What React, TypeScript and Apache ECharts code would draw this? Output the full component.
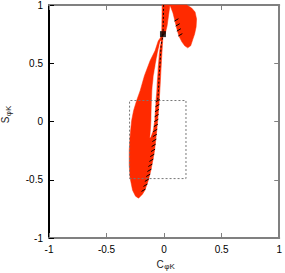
import React, { useEffect, useRef } from "react";
import * as echarts from "echarts";

// Axis ticks
const xTicks = [-1, -0.5, 0, 0.5, 1];
const yTicks = [-1, -0.5, 0, 0.5, 1];

// Lower allowed region (outer boundary), [C, S]
const lowerOuter: number[][] = [
  [-0.009, 0.752], [-0.051, 0.692], [-0.079, 0.607], [-0.122, 0.521], [-0.171, 0.393],
  [-0.208, 0.265], [-0.239, 0.179], [-0.265, 0.094], [-0.282, 0.009], [-0.295, -0.12],
  [-0.303, -0.248], [-0.303, -0.376], [-0.295, -0.487], [-0.274, -0.59], [-0.248, -0.641],
  [-0.222, -0.658], [-0.188, -0.624], [-0.167, -0.59], [-0.137, -0.504], [-0.115, -0.419],
  [-0.098, -0.333], [-0.083, -0.248], [-0.073, -0.162], [-0.064, -0.077], [-0.056, 0.009],
  [-0.049, 0.094], [-0.043, 0.179], [-0.037, 0.265], [-0.03, 0.393], [-0.023, 0.521],
  [-0.015, 0.65], [-0.009, 0.752],
];

// Inner excluded hole of the lower region
const lowerHole: number[][] = [
  [-0.03, 0.692], [-0.051, 0.607], [-0.068, 0.521], [-0.09, 0.393], [-0.103, 0.265],
  [-0.107, 0.137], [-0.111, 0.009], [-0.115, -0.077], [-0.12, -0.137], [-0.098, -0.077],
  [-0.085, 0.009], [-0.077, 0.137], [-0.068, 0.265], [-0.06, 0.393], [-0.051, 0.521],
  [-0.043, 0.607],
];

// Thin strip above the best-fit point
const upperStrip: number[][] = [
  [-0.021, 0.735], [-0.017, 1.0], [0.051, 1.0], [0.026, 0.821], [0.009, 0.752],
];

// Right upper lobe
const upperLobe: number[][] = [
  [0.051, 1.0], [0.077, 0.932], [0.094, 0.863], [0.111, 0.795], [0.128, 0.735],
  [0.154, 0.684], [0.179, 0.65], [0.205, 0.632], [0.231, 0.65], [0.248, 0.701],
  [0.265, 0.752], [0.278, 0.812], [0.282, 0.88], [0.269, 0.94], [0.239, 0.974],
  [0.197, 1.0],
];

// Hatch marks along the lower region's right edge and the lobe's left edge
const hatchLower: number[][] = [
  [-0.056, 0.179], [-0.058, 0.137], [-0.062, 0.094], [-0.065, 0.051], [-0.068, 0.009],
  [-0.072, -0.034], [-0.077, -0.077], [-0.081, -0.12], [-0.085, -0.162], [-0.091, -0.205],
  [-0.096, -0.248], [-0.103, -0.291], [-0.111, -0.333], [-0.12, -0.376], [-0.128, -0.419],
  [-0.138, -0.462], [-0.15, -0.504], [-0.162, -0.547], [-0.179, -0.59],
];
const hatchLobe: number[][] = [
  [0.107, 0.872], [0.118, 0.829], [0.128, 0.786], [0.141, 0.744],
];

// Dashed black boundary lines
const dashedBand: number[][] = [
  [-0.009, 0.752], [-0.026, 0.65], [-0.034, 0.521], [-0.043, 0.393], [-0.049, 0.265],
  [-0.056, 0.179],
];
const dashedTop: number[][] = [[-0.009, 0.778], [-0.004, 1.0]];

// Best-fit point
const bestFit: number[][] = [[-0.01, 0.75]];

// Dashed experimental box
const boxC = [-0.3, 0.19];
const boxS = [-0.49, 0.18];

const RED = "#ff2a00";
const FONT = "Liberation Sans, Arial, sans-serif";

function polygonSeries(points: number[][], color: string, z: number) {
  return {
    type: "custom",
    coordinateSystem: "cartesian2d",
    silent: true,
    z,
    data: [[points[0][0], points[0][1]]],
    renderItem: (_p: any, api: any) => ({
      type: "polygon",
      shape: { points: points.map((pt) => api.coord(pt)) },
      style: { fill: color, stroke: color, lineWidth: 0.5 },
    }),
  };
}

function hatchSeries(points: number[][], z: number) {
  return {
    type: "custom",
    coordinateSystem: "cartesian2d",
    silent: true,
    z,
    data: points,
    renderItem: (_p: any, api: any) => {
      const c = api.coord([api.value(0), api.value(1)]);
      return {
        type: "line",
        shape: { x1: c[0] - 2, y1: c[1] + 1.2, x2: c[0] + 2, y2: c[1] - 1.2 },
        style: { stroke: "#000", lineWidth: 1 },
      };
    },
  };
}

function axisCommon(color: string, showLabel: boolean) {
  return {
    type: "value" as const,
    min: -1,
    max: 1,
    interval: 0.5,
    splitLine: { show: false },
    axisLine: { show: true, onZero: false, lineStyle: { color, width: 2 } },
    axisTick: { show: true, inside: true, length: 5, lineStyle: { color, width: 1 } },
    axisLabel: {
      show: showLabel,
      fontSize: 10,
      fontFamily: FONT,
      color: "#000",
      margin: 6,
      formatter: (v: number) => String(v),
    },
  };
}

export default function App() {
  const ref = useRef<HTMLDivElement>(null);

  useEffect(() => {
    if (!ref.current) return;
    const chart = echarts.init(ref.current, undefined, { renderer: "svg" });
    const box = [
      [boxC[0], boxS[0]], [boxC[1], boxS[0]], [boxC[1], boxS[1]], [boxC[0], boxS[1]], [boxC[0], boxS[0]],
    ];
    chart.setOption({
      animation: false,
      backgroundColor: "#fff",
      grid: { left: 49, top: 4, right: 2, bottom: 35 },
      xAxis: [
        { ...axisCommon("#808080", true), position: "bottom", data: undefined, customValues: undefined },
        { ...axisCommon("#808080", false), position: "top" },
      ],
      yAxis: [
        { ...axisCommon("#000", true), position: "left" },
        { ...axisCommon("#808080", false), position: "right" },
      ],
      graphic: [
        { type: "text", x: 160, y: 264, style: { text: "C", fontSize: 10, fontFamily: FONT, fill: "#222", align: "center", verticalAlign: "middle" } },
        { type: "text", x: 169.5, y: 266.5, style: { text: "φK", fontSize: 8, fontFamily: FONT, fill: "#222", align: "center", verticalAlign: "middle" } },
        { type: "text", x: 5.5, y: 120, rotation: Math.PI / 2, style: { text: "S", fontSize: 10, fontFamily: FONT, fill: "#222", align: "center", verticalAlign: "middle" } },
        { type: "text", x: 8, y: 111, rotation: Math.PI / 2, style: { text: "φK", fontSize: 8, fontFamily: FONT, fill: "#222", align: "center", verticalAlign: "middle" } },
      ],
      series: [
        polygonSeries(lowerOuter, RED, 1),
        polygonSeries(upperStrip, RED, 1),
        polygonSeries(upperLobe, RED, 1),
        polygonSeries(lowerHole, "#fff", 2),
        {
          type: "line",
          data: box,
          symbol: "none",
          silent: true,
          z: 3,
          lineStyle: { color: "#777", width: 1, type: [2, 2] },
        },
        hatchSeries(hatchLower, 4),
        hatchSeries(hatchLobe, 4),
        {
          type: "line",
          data: dashedBand,
          symbol: "none",
          silent: true,
          z: 4,
          lineStyle: { color: "#000", width: 1, type: [2, 2] },
        },
        {
          type: "line",
          data: dashedTop,
          symbol: "none",
          silent: true,
          z: 4,
          lineStyle: { color: "#000", width: 1, type: [2, 2] },
        },
        {
          type: "scatter",
          data: bestFit,
          symbol: "rect",
          symbolSize: 6,
          silent: true,
          z: 5,
          itemStyle: { color: "#000" },
        },
      ],
    });
    return () => chart.dispose();
  }, []);

  return (
    <div
      ref={ref}
      style={{ position: "fixed", left: 0, top: 0, width: 285, height: 273 }}
    />
  );
}
